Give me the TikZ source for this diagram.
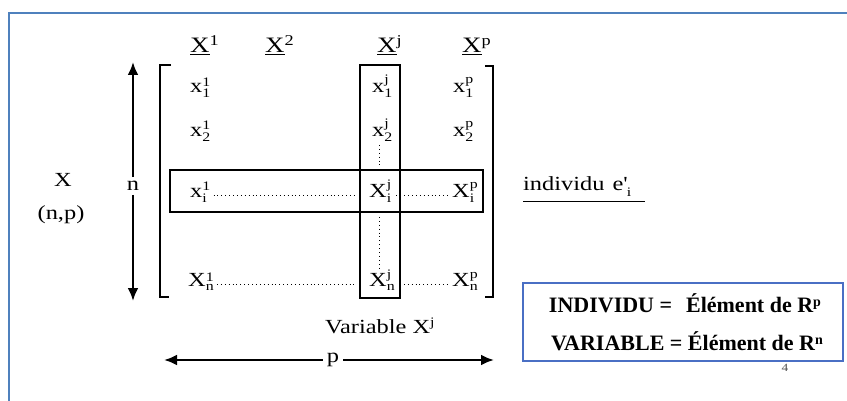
\documentclass[tikz,border=0pt]{standalone}
\usepackage{fontspec}
\setmainfont[FakeStretch=1.22]{Liberation Serif}
\newfontfamily\defboxfont{Liberation Serif}
\usetikzlibrary{arrows.meta}
\definecolor{frameblue}{HTML}{4F81BD}
\definecolor{boxblue}{HTML}{4A6FC4}
\newcommand\ent[3]{#1\raisebox{-0.5ex}{\fontsize{13}{13}\selectfont\shortstack[l]{#3\\#2}}}
\newcommand\hdr[2]{\underline{X}\raisebox{0.75ex}{\fontsize{15}{15}\selectfont #2}}
\begin{document}
\begin{tikzpicture}[x=1pt,y=-1pt,
  txt/.style={inner sep=0pt,font=\fontsize{20}{22}\selectfont},
  entry/.style={inner sep=0pt,anchor=base west,font=\fontsize{20}{22}\selectfont},
  head/.style={inner sep=0pt,anchor=base west,font=\fontsize{22}{24}\selectfont},
  thickline/.style={line width=2.6pt},
  dotline/.style={line width=0.9pt,dash pattern=on 0.9pt off 3pt},
  arr/.style={line width=2.6pt,-{Latex[length=13pt,width=11pt]}},
  bold/.style={inner sep=0pt,font=\defboxfont\bfseries\fontsize{22}{24}\selectfont}]
\useasboundingbox (0,0) rectangle (847,401);
% outer frame (top and left only)
\draw[frameblue,line width=2pt] (9,401) -- (9,13) -- (847,13);
% column headers
\node[head] (h1) at (190,53) {\hdr{X}{1}};
\node[head] (h2) at (265,53) {\hdr{X}{2}};
\node[head] (hj) at (377,53) {\hdr{X}{j}};
\node[head] (hp) at (462,53) {\hdr{X}{p}};
% brackets
\draw[thickline] (171,65) -- (160,65) -- (160,297) -- (169,297);
\draw[thickline] (485,66) -- (493,66) -- (493,297) -- (485,297);
% highlighted column and row
\draw[thickline] (360,65) rectangle (400,298);
\draw[thickline] (170,170) rectangle (483,212);
% entries
\node[entry] (r11) at (190,93) {\ent{x}{1}{1}};
\node[entry] (r1j) at (372,93) {\ent{x}{1}{j}};
\node[entry] (r1p) at (453,93) {\ent{x}{1}{p}};
\node[entry] (r21) at (190,137) {\ent{x}{2}{1}};
\node[entry] (r2j) at (372,137) {\ent{x}{2}{j}};
\node[entry] (r2p) at (453,137) {\ent{x}{2}{p}};
\node[entry] (ri1) at (190,198) {\ent{x}{i}{1}};
\node[entry] (rij) at (369,198) {\ent{X}{i}{j}};
\node[entry] (rip) at (452,198) {\ent{X}{i}{p}};
\node[entry] (rn1) at (188,286) {\ent{X}{n}{1}};
\node[entry] (rnj) at (369,286) {\ent{X}{n}{j}};
\node[entry] (rnp) at (452,286) {\ent{X}{n}{p}};
% dotted links
\draw[dotline] ([xshift=3pt,yshift=3pt]ri1.base east) -- ([xshift=-12pt,yshift=3pt]rij.base west);
\draw[dotline] ([xshift=5pt,yshift=3pt]rij.base east) -- ([xshift=-4pt,yshift=3pt]rip.base west);
\draw[dotline] ([xshift=3pt,yshift=2pt]rn1.base east) -- ([xshift=-12pt,yshift=2pt]rnj.base west);
\draw[dotline] ([xshift=5pt,yshift=2pt]rnj.base east) -- ([xshift=-4pt,yshift=2pt]rnp.base west);
\coordinate (va) at (379,145);
\coordinate (vb) at (379,167);
\coordinate (vc) at (379,217);
\coordinate (vd) at (379,268);
\draw[dotline] (va) -- (vb);
\draw[dotline] (vc) -- (vd);
% left labels
\node[txt] (X) at (63,180) {X};
\node[txt] (np) at (61,215) {(n,p)};
\node[txt,fill=white,inner ysep=4pt] (n) at (133,186) {n};
\coordinate (ntop) at (133,62);
\coordinate (nbot) at (133,301);
\draw[arr] (n) -- (ntop);
\draw[arr] (n) -- (nbot);
% individu
\node[txt,anchor=base west] (ind) at (523,191) {individu\hspace{8pt}e\textquotesingle\raisebox{-0.6ex}{\fontsize{13}{13}\selectfont i}};
\draw[line width=1pt] (523,202) -- (645,202);
% variable
\node[txt,anchor=base west] (var) at (325,333) {Variable X\raisebox{0.7ex}{\fontsize{13}{13}\selectfont j}};
% p arrow
\node[txt,fill=white,inner xsep=4pt] (p) at (333,360) {p};
\coordinate (pleft) at (164,360);
\coordinate (pright) at (494,360);
\draw[arr] (p) -- (pleft);
\draw[arr] (p) -- (pright);
% definition box
\node[draw=boxblue,line width=1.8pt,minimum width=320pt,minimum height=78pt,inner sep=0pt] (def) at (683,322) {};
\node[bold] (l1) at (685,303) {INDIVIDU =\hspace{14pt}Élément de R\raisebox{0.6ex}{\fontsize{14}{14}\selectfont p}};
\node[bold] (l2) at (687,341) {VARIABLE = Élément de R\raisebox{0.6ex}{\fontsize{14}{14}\selectfont n}};
\node[inner sep=0pt,font=\fontsize{11}{11}\selectfont,text=black!70] (pg) at (785,368) {4};
\end{tikzpicture}
\end{document}
